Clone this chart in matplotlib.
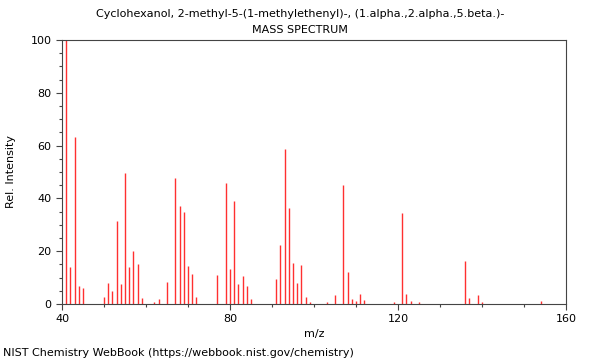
import matplotlib.pyplot as plt
from matplotlib.ticker import MultipleLocator

# m/z and relative intensity
mz = [41, 42, 43, 44, 45, 50, 51, 52, 53, 54, 55, 56, 57, 58, 59, 62, 63, 65,
      67, 68, 69, 70, 71, 72, 77, 79, 80, 81, 82, 83, 84, 85,
      91, 92, 93, 94, 95, 96, 97, 98, 99, 103, 105, 107, 108, 109, 110, 111, 112,
      119, 121, 122, 123, 125, 136, 137, 139, 140, 154]
intensity = [100, 13.9, 63.4, 6.7, 5.9, 2.6, 8.0, 4.9, 31.4, 7.7, 49.7, 14.0, 20.0, 15.1, 2.3, 0.9, 1.9, 8.5,
             47.9, 37.1, 35.0, 14.4, 11.5, 2.8, 11.0, 45.7, 13.4, 38.9, 7.6, 10.6, 6.7, 1.9,
             9.6, 22.3, 58.7, 36.5, 15.4, 7.8, 14.6, 2.8, 0.9, 0.8, 3.4, 45.0, 12.1, 2.0, 1.1, 3.8, 1.5,
             0.8, 34.6, 3.7, 1.1, 0.6, 16.4, 2.1, 3.4, 0.6, 1.1]

title = 'Cyclohexanol, 2-methyl-5-(1-methylethenyl)-, (1.alpha.,2.alpha.,5.beta.)-'

fig = plt.figure(figsize=(6, 3.6), dpi=100)
ax = fig.add_axes([62/600, 1 - 304/360, 504/600, 264/360])

ax.vlines(mz, 0, intensity, colors='#ff3030', linewidth=1)

ax.set_xlim(40, 160)
ax.set_ylim(0, 100)
ax.xaxis.set_major_locator(MultipleLocator(40))
ax.xaxis.set_minor_locator(MultipleLocator(10))
ax.yaxis.set_major_locator(MultipleLocator(20))
ax.yaxis.set_minor_locator(MultipleLocator(5))
ax.tick_params(which='major', length=4, width=0.8, color='#444444', labelsize=8)
ax.tick_params(which='minor', length=2.5, width=0.8, color='#444444')
for s in ax.spines.values():
    s.set_color('#444444')
    s.set_linewidth(0.8)

ax.set_xlabel('m/z', fontsize=8, labelpad=3)
ax.set_ylabel('Rel. Intensity', fontsize=8, labelpad=10.5)

fig.text(0.5, 1 - 14/360, title, ha='center', va='center', fontsize=8)
fig.text(0.5, 1 - 30/360, 'MASS SPECTRUM', ha='center', va='center', fontsize=8)
fig.text(3/600, 1 - 353/360, 'NIST Chemistry WebBook (https://webbook.nist.gov/chemistry)',
         ha='left', va='center', fontsize=8)

fig.savefig('out.png', dpi=100)
